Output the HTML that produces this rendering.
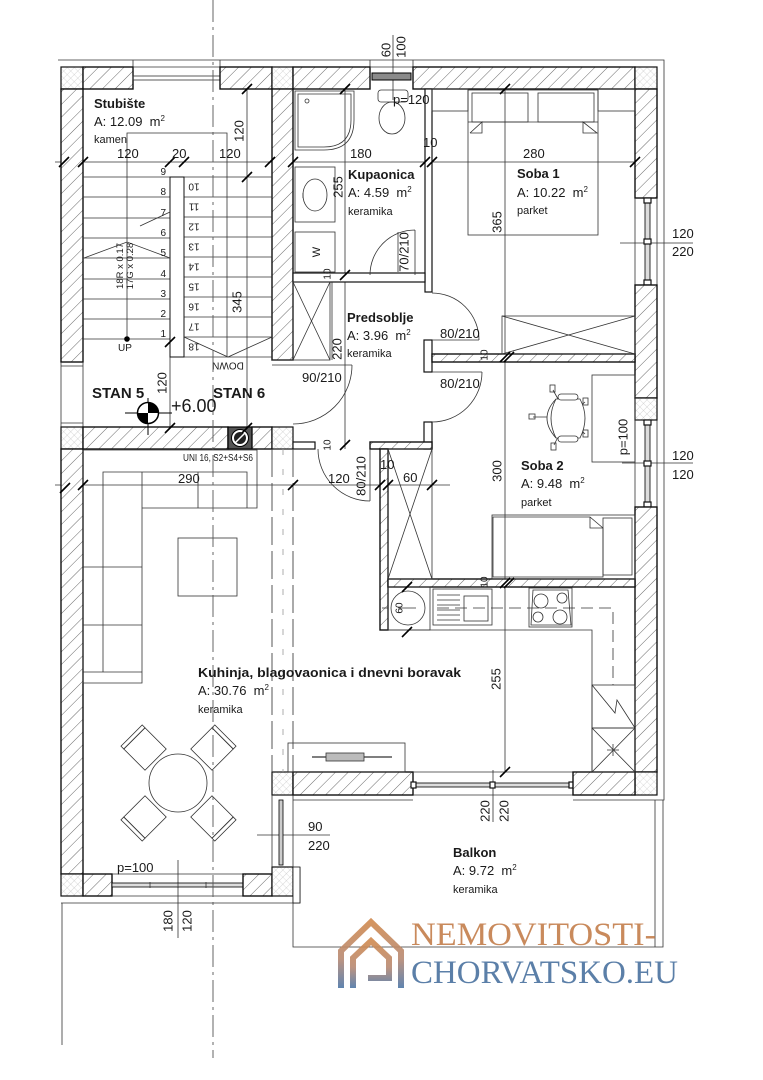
<!DOCTYPE html>
<html><head><meta charset="utf-8"><style>
html,body{margin:0;padding:0;background:#fff}
svg{display:block}
text{font-family:"Liberation Sans",Arial,sans-serif;fill:#1a1a1a}
.w{fill:url(#h);stroke:#111;stroke-width:1.4}
.c{fill:url(#x);stroke:#111;stroke-width:1.2}
.p{fill:#fff;stroke:#111;stroke-width:1.2}
.t{fill:none;stroke:#333;stroke-width:0.8}
.tk{fill:none;stroke:#000;stroke-width:1.6}
.d{font-size:13px}
.b{font-size:13px;font-weight:bold}
.s{font-size:11px}
.n{font-size:10px}
</style></head><body>
<svg width="763" height="1080" viewBox="0 0 763 1080" xmlns="http://www.w3.org/2000/svg">
<defs>
<pattern id="h" width="9" height="9" patternUnits="userSpaceOnUse" patternTransform="rotate(45)"><rect width="9" height="9" fill="#fff"/><line x1="0" y1="0" x2="0" y2="9" stroke="#444" stroke-width="0.8"/></pattern>
<pattern id="x" width="5" height="5" patternUnits="userSpaceOnUse" patternTransform="rotate(45)"><rect width="5" height="5" fill="#fff"/><path d="M0 0V5M0 0H5" stroke="#bbb" stroke-width="0.6"/></pattern>
<linearGradient id="lg" x1="0" y1="0" x2="0" y2="1"><stop offset="0" stop-color="#d08a50"/><stop offset="0.55" stop-color="#b98a73"/><stop offset="1" stop-color="#4f78a8"/></linearGradient>
</defs>

<!-- outlines -->
<path class="t" d="M58,60 H664 V800 H573 M293,800 H413 M293,896 V947 H663 V800 M655,800 V947 M61,903 H300 V867 M62,903 V1045"/>
<path class="t" d="M133,60 V67 M220,60 V67 M370,60 V67 M413,60 V67"/>

<!-- dimension lines -->
<path class="t" d="M55,162 H650 M55,485 H450 M247,89 V430 M170,340 V430 M345,89 V449 M505,89 V772 M620,243 H693 M622,463 H693 M257,835 H330 M178,860 V938 M493,770 V822 M393,35 V100 M398,608 H416"/>

<!-- top wall -->
<rect class="c" x="61" y="67" width="22" height="22"/>
<rect class="w" x="83" y="67" width="50" height="22"/>
<line class="t" x1="133" y1="67" x2="220" y2="67"/>
<rect class="t" x="133" y="76" width="87" height="4"/>
<rect class="w" x="220" y="67" width="52" height="22"/>
<rect class="c" x="272" y="67" width="21" height="22"/>
<rect class="w" x="293" y="67" width="77" height="22"/>
<line class="t" x1="370" y1="67" x2="413" y2="67"/>
<rect x="372" y="73" width="39" height="7" fill="#8a8a8a" stroke="#000" stroke-width="1"/>
<rect class="w" x="413" y="67" width="222" height="22"/>
<rect class="c" x="635" y="67" width="22" height="22"/>

<!-- right wall -->
<rect class="w" x="635" y="89" width="22" height="109"/>
<path class="t" d="M635,198 V285 M657,198 V285 M635,420 V507 M657,420 V507"/>
<rect x="645" y="198" width="5" height="87" fill="#ddd" stroke="#000" stroke-width="0.8"/>
<rect x="644" y="198" width="7" height="5" class="p"/><rect x="644" y="239" width="7" height="5" class="p"/><rect x="644" y="280" width="7" height="5" class="p"/>
<rect class="w" x="635" y="285" width="22" height="113"/>
<rect class="c" x="635" y="398" width="22" height="22"/>
<rect x="645" y="420" width="5" height="87" fill="#ddd" stroke="#000" stroke-width="0.8"/>
<rect x="644" y="420" width="7" height="5" class="p"/><rect x="644" y="461" width="7" height="5" class="p"/><rect x="644" y="502" width="7" height="5" class="p"/>
<rect class="w" x="635" y="507" width="22" height="265"/>
<rect class="c" x="635" y="772" width="22" height="23"/>

<!-- kitchen/balcony wall -->
<rect class="c" x="272" y="772" width="21" height="23"/>
<rect class="w" x="293" y="772" width="120" height="23"/>
<path class="t" d="M413,772 H573 M413,795 H573"/>
<rect x="413" y="783" width="160" height="4" fill="#ddd" stroke="#000" stroke-width="0.8"/>
<rect x="411" y="782" width="5" height="6" class="p"/><rect x="490" y="782" width="5" height="6" class="p"/><rect x="569" y="782" width="5" height="6" class="p"/>
<rect class="w" x="573" y="772" width="62" height="23"/>

<!-- left wall -->
<rect class="w" x="61" y="89" width="22" height="273"/>
<path class="t" d="M61,362 V427 M83,362 V427 M61,366 H83 M61,423 H83"/>
<rect class="c" x="61" y="427" width="22" height="22"/>
<rect class="w" x="61" y="449" width="22" height="425"/>
<rect class="c" x="61" y="874" width="22" height="22"/>

<!-- stairs/living wall -->
<rect class="w" x="83" y="427" width="145" height="22"/>
<rect x="228" y="427" width="24" height="22" fill="#555" stroke="#000" stroke-width="1.2"/>
<circle cx="240" cy="438" r="8.5" fill="#fff" stroke="#000" stroke-width="1"/>
<circle cx="240" cy="438" r="6" fill="#222"/>
<path d="M235,443 L245,433" stroke="#fff" stroke-width="1.5"/>
<rect class="w" x="252" y="427" width="20" height="22"/>
<rect class="c" x="272" y="427" width="21" height="22"/>

<!-- stair/corridor wall -->
<rect class="w" x="272" y="89" width="21" height="271"/>
<path class="t" d="M272,360 H293 M272,365 H293"/>

<!-- bottom living wall -->
<rect class="w" x="83" y="874" width="29" height="22"/>
<path class="t" d="M112,874 H243 M112,896 H243"/>
<rect x="112" y="883" width="131" height="4" fill="#ddd" stroke="#000" stroke-width="0.8"/>
<path class="t" d="M150,882 V888 M178,882 V888 M206,882 V888"/>
<rect class="w" x="243" y="874" width="29" height="22"/>
<rect class="c" x="272" y="867" width="21" height="29"/>
<rect class="p" x="293" y="867" width="7" height="36" style="stroke-width:0.8"/>

<!-- balcony vertical window -->
<path class="t" d="M272,795 V867 M293,795 V867"/>
<rect x="279" y="800" width="4" height="65" fill="#ccc" stroke="#000" stroke-width="0.8"/>

<!-- interior walls -->
<rect class="p" x="425" y="89" width="7" height="203"/>
<rect class="p" x="293" y="273" width="132" height="9"/>
<rect class="p" x="424" y="340" width="8" height="32"/>
<rect class="p" x="424" y="422" width="8" height="27"/>
<rect class="w" x="432" y="354" width="203" height="8"/>
<rect class="p" x="293" y="442" width="22" height="7"/>
<rect class="w" x="370" y="442" width="62" height="7"/>
<rect class="w" x="380" y="449" width="8" height="181"/>
<rect class="w" x="388" y="579" width="247" height="8"/>

<!-- hall wardrobe -->
<rect class="t" x="388" y="449" width="44" height="130"/>
<path class="t" d="M388,449 L432,579 M432,449 L388,579"/>
<!-- predsoblje wardrobe -->
<rect class="t" x="293" y="282" width="37" height="78"/>
<path class="t" d="M293,282 L330,360 M330,282 L293,360 M332,282 V360"/>

<!-- stairs -->
<path class="t" d="M83,177 H170 M83,197 H170 M83,218 H170 M83,238 H170 M83,258 H170 M83,279 H170 M83,299 H170 M83,319 H170 M83,339 H170"/>
<path class="t" d="M184,177 H272 M184,197 H272 M184,217 H272 M184,237 H272 M184,257 H272 M184,277 H272 M184,297 H272 M184,317 H272 M184,337 H272 M184,357 H272"/>
<rect class="p" x="170" y="177" width="14" height="180" style="stroke-width:1"/>
<path class="t" d="M127,339 V133 H227 V357 M184,337 L228,357 L272,337 M84,258 L127,242 L170,258 M140,226 L170,212"/>
<circle cx="127" cy="339" r="2.8" fill="#000"/>
<g class="n">
<text x="166" y="175" text-anchor="end">9</text><text x="166" y="195" text-anchor="end">8</text><text x="166" y="216" text-anchor="end">7</text><text x="166" y="236" text-anchor="end">6</text><text x="166" y="256" text-anchor="end">5</text><text x="166" y="277" text-anchor="end">4</text><text x="166" y="297" text-anchor="end">3</text><text x="166" y="317" text-anchor="end">2</text><text x="166" y="337" text-anchor="end">1</text>
<text transform="translate(194,187) rotate(180)" y="3.5" text-anchor="middle">10</text>
<text transform="translate(194,207) rotate(180)" y="3.5" text-anchor="middle">11</text>
<text transform="translate(194,227) rotate(180)" y="3.5" text-anchor="middle">12</text>
<text transform="translate(194,247) rotate(180)" y="3.5" text-anchor="middle">13</text>
<text transform="translate(194,267) rotate(180)" y="3.5" text-anchor="middle">14</text>
<text transform="translate(194,287) rotate(180)" y="3.5" text-anchor="middle">15</text>
<text transform="translate(194,307) rotate(180)" y="3.5" text-anchor="middle">16</text>
<text transform="translate(194,327) rotate(180)" y="3.5" text-anchor="middle">17</text>
<text transform="translate(194,347) rotate(180)" y="3.5" text-anchor="middle">18</text>
<text x="118" y="351">UP</text>
<text transform="translate(228,366) rotate(180)" y="3.5" text-anchor="middle">DOWN</text>
</g>
<text transform="translate(120,266) rotate(-90)" y="3" text-anchor="middle" style="font-size:9.5px">18R x 0.17</text>
<text transform="translate(130,266) rotate(-90)" y="3" text-anchor="middle" style="font-size:9.5px">17G x 0.28</text>

<!-- level marker -->
<path d="M125,413 H172 M148,398 V435" stroke="#000" stroke-width="1"/>
<circle cx="148" cy="413" r="10.5" fill="#fff" stroke="#000" stroke-width="1.5"/>
<path d="M148,413 V402.5 A10.5,10.5 0 0 1 158.5,413 Z M148,413 V423.5 A10.5,10.5 0 0 1 137.5,413 Z" fill="#000"/>

<!-- bathroom -->
<path class="t" d="M295,91 H354 V120 Q354,150 324,150 H295 Z"/>
<path class="t" d="M298,94 H351 V120 Q351,147 324,147 H298 Z"/>
<circle cx="307" cy="101" r="2" class="t"/>
<rect class="t" x="378" y="90" width="30" height="12" rx="3"/>
<ellipse class="t" cx="392" cy="118" rx="13" ry="16"/>
<rect class="t" x="295" y="167" width="40" height="55"/>
<ellipse class="t" cx="315" cy="195" rx="12" ry="16"/>
<path class="t" d="M303,193 V198"/>
<rect class="t" x="295" y="232" width="40" height="40"/>
<text transform="translate(316,252) rotate(-90)" y="4" text-anchor="middle" class="s">W</text>
<path class="t" d="M415,275 V230 M415,230 A45,45 0 0 0 370,275 M398,232 V272"/>

<!-- doors -->
<path class="t" d="M293,365 H352 M352,365 A59,59 0 0 1 293,424"/>
<path class="t" d="M432,340 H479 M479,340 A47,47 0 0 0 432,293"/>
<path class="t" d="M432,372 H482 M482,372 A50,50 0 0 1 432,422"/>
<path class="t" d="M370,449 V501 M370,501 A52,52 0 0 1 318,449"/>

<!-- soba 1 -->
<rect class="t" x="432" y="89" width="36" height="22"/>
<rect class="t" x="598" y="89" width="37" height="22"/>
<rect class="t" x="468" y="90" width="130" height="145"/>
<rect class="t" x="472" y="93" width="56" height="29"/>
<rect class="t" x="538" y="93" width="56" height="29"/>
<path class="t" d="M468,122 H598 M470,133 L482,122 V133 H470 M583,122 L597,133 H583 Z"/>
<rect class="t" x="502" y="316" width="133" height="38"/>
<path class="t" d="M502,316 L635,354 M635,316 L502,354"/>

<!-- soba 2 -->
<rect class="t" x="592" y="375" width="43" height="87"/>
<g class="t">
<path d="M553,390 L568,417 L585,402 M533,417 H568 L585,434 M568,417 L554,445"/>
<rect x="550" y="385" width="5" height="7"/><rect x="583" y="398" width="5" height="7"/><rect x="529" y="414" width="6" height="5"/><rect x="583" y="430" width="5" height="7"/><rect x="551" y="443" width="5" height="7"/>
</g>
<path d="M556,399 Q538,418 556,438 H580 Q590,418 580,399 Z" fill="#fff" stroke="#333" stroke-width="0.8"/>
<path class="t" d="M556,399 Q546,418 556,438"/>
<rect x="558" y="394" width="20" height="6" rx="3" fill="#fff" stroke="#333" stroke-width="0.8"/>
<rect x="558" y="436" width="20" height="6" rx="3" fill="#fff" stroke="#333" stroke-width="0.8"/>
<rect class="t" x="492" y="515" width="143" height="64"/>
<path class="t" d="M493,517 H590 L603,528 V577 H493 Z M590,517 V528 H603"/>
<rect class="t" x="603" y="518" width="29" height="57"/>

<!-- kitchen -->
<path class="t" d="M388,630 H592 V772"/>
<rect class="t" x="388" y="587" width="42" height="43"/>
<circle class="t" cx="408" cy="608" r="17"/>
<rect class="t" x="433" y="589" width="59" height="36"/>
<path class="t" d="M437,595 H460 M437,600 H460 M437,605 H460 M437,610 H460 M437,615 H460 M437,620 H460"/>
<rect class="t" x="464" y="596" width="24" height="25"/>
<rect class="t" x="529" y="588" width="43" height="39"/>
<path class="t" d="M533,590 H568 L571,625 H531 Z"/>
<circle class="t" cx="541" cy="601" r="7"/><circle class="t" cx="562" cy="598" r="5"/><circle class="t" cx="538" cy="617" r="5"/><circle class="t" cx="560" cy="617" r="7"/>
<path d="M382,608 H388 M437,608 H613 V685" fill="none" stroke="#333" stroke-width="0.8" stroke-dasharray="12 6"/>
<rect class="t" x="592" y="685" width="43" height="43"/>
<path class="t" d="M592,685 L615,713 L617,700 L635,728"/>
<rect class="t" x="592" y="728" width="43" height="44"/>
<path class="t" d="M592,728 L635,772 M635,728 L592,772 M607,750 H619 M613,744 V756"/>

<!-- living -->
<path class="t" d="M83,450 H257 V508 H142 V683 H83 Z M103,672 V472 H247 V508 M142,472 V508 M198,472 V508 M83,567 H142 M83,625 H142 M83,672 H142"/>
<rect class="t" x="178" y="538" width="59" height="58"/>
<circle class="t" cx="178" cy="783" r="29"/>
<g class="t">
<g transform="translate(145,749) rotate(-45)"><rect x="-15" y="-15" width="30" height="30"/><rect x="-15" y="-19" width="30" height="4"/></g>
<g transform="translate(212,749) rotate(45)"><rect x="-15" y="-15" width="30" height="30"/><rect x="-15" y="-19" width="30" height="4"/></g>
<g transform="translate(212,817) rotate(135)"><rect x="-15" y="-15" width="30" height="30"/><rect x="-15" y="-19" width="30" height="4"/></g>
<g transform="translate(145,817) rotate(-135)"><rect x="-15" y="-15" width="30" height="30"/><rect x="-15" y="-19" width="30" height="4"/></g>
</g>
<rect class="t" x="288" y="743" width="117" height="29"/>
<path d="M312,757 H392" stroke="#333" stroke-width="1.2"/>
<rect x="326" y="753" width="38" height="8" fill="#bbb" stroke="#333" stroke-width="0.8"/>

<!-- dashed axes -->
<path d="M213,0 V1058" stroke="#555" stroke-width="0.9" stroke-dasharray="22 5 3 5" fill="none"/>
<path d="M272,449 V772 M293,449 V772" stroke="#444" stroke-width="0.9" stroke-dasharray="28 6" fill="none"/>
<path d="M283,449 V772" stroke="#999" stroke-width="0.8" stroke-dasharray="6 14" fill="none"/>

<!-- ticks -->
<path class="tk" d="M59,167l10-10 M78,167l10-10 M165,167l10-10 M179,167l10-10 M265,167l10-10 M288,167l10-10 M420,167l10-10 M427,167l10-10 M630,167l10-10 M78,490l10-10 M288,490l10-10 M375,490l10-10 M383,490l10-10 M427,490l10-10 M242,94l10-10 M242,182l10-10 M242,433l10-10 M165,347l10-10 M165,433l10-10 M340,94l10-10 M340,280l10-10 M340,450l10-10 M500,94l10-10 M500,362l10-10 M504,362l10-10 M500,588l10-10 M504,588l10-10 M500,777l10-10 M402,592l10-10 M402,637l10-10 M60,493l10-10"/>

<!-- room labels -->
<text x="94" y="108" class="b">Stubište</text>
<text x="94" y="126" class="d">A: 12.09&#160; m<tspan dy="-5" font-size="8">2</tspan></text>
<text x="94" y="143" class="s">kamen</text>
<text x="348" y="179" class="b">Kupaonica</text>
<text x="348" y="197" class="d">A: 4.59&#160; m<tspan dy="-5" font-size="8">2</tspan></text>
<text x="348" y="215" class="s">keramika</text>
<text x="517" y="178" class="b">Soba 1</text>
<text x="517" y="197" class="d">A: 10.22&#160; m<tspan dy="-5" font-size="8">2</tspan></text>
<text x="517" y="214" class="s">parket</text>
<text x="347" y="322" class="b">Predsoblje</text>
<text x="347" y="340" class="d">A: 3.96&#160; m<tspan dy="-5" font-size="8">2</tspan></text>
<text x="347" y="357" class="s">keramika</text>
<text x="521" y="470" class="b">Soba 2</text>
<text x="521" y="488" class="d">A: 9.48&#160; m<tspan dy="-5" font-size="8">2</tspan></text>
<text x="521" y="506" class="s">parket</text>
<text x="198" y="677" class="b" textLength="263" lengthAdjust="spacingAndGlyphs">Kuhinja, blagovaonica i dnevni boravak</text>
<text x="198" y="695" class="d">A: 30.76&#160; m<tspan dy="-5" font-size="8">2</tspan></text>
<text x="198" y="713" class="s">keramika</text>
<text x="453" y="857" class="b">Balkon</text>
<text x="453" y="875" class="d">A: 9.72&#160; m<tspan dy="-5" font-size="8">2</tspan></text>
<text x="453" y="893" class="s">keramika</text>

<text x="92" y="398" style="font-size:15px;font-weight:bold">STAN 5</text>
<text x="213" y="398" style="font-size:15px;font-weight:bold">STAN 6</text>
<text x="171" y="412" style="font-size:18px">+6.00</text>
<text x="183" y="461" class="n" textLength="70" lengthAdjust="spacingAndGlyphs">UNI 16, S2+S4+S6</text>

<!-- dimension texts -->
<g class="d">
<text x="117" y="158">120</text><text x="172" y="158">20</text><text x="219" y="158">120</text>
<text x="350" y="158">180</text><text x="523" y="158">280</text><text x="423" y="147">10</text>
<text x="178" y="483">290</text><text x="328" y="483">120</text><text x="380" y="469">10</text><text x="403" y="482">60</text>
<text x="302" y="382">90/210</text><text x="440" y="338">80/210</text><text x="440" y="388">80/210</text>
<text x="672" y="238">120</text><text x="672" y="256">220</text>
<text x="672" y="460">120</text><text x="672" y="479">120</text>
<text x="308" y="831">90</text><text x="308" y="850">220</text>
<text x="393" y="104">p=120</text><text x="117" y="872">p=100</text>
<text transform="translate(239,131) rotate(-90)" y="4.5" text-anchor="middle">120</text>
<text transform="translate(338,187) rotate(-90)" y="4.5" text-anchor="middle">255</text>
<text transform="translate(497,222) rotate(-90)" y="4.5" text-anchor="middle">365</text>
<text transform="translate(237,302) rotate(-90)" y="4.5" text-anchor="middle">345</text>
<text transform="translate(162,383) rotate(-90)" y="4.5" text-anchor="middle">120</text>
<text transform="translate(337,349) rotate(-90)" y="4.5" text-anchor="middle">220</text>
<text transform="translate(497,471) rotate(-90)" y="4.5" text-anchor="middle">300</text>
<text transform="translate(496,679) rotate(-90)" y="4.5" text-anchor="middle">255</text>
<text transform="translate(404,252) rotate(-90)" y="4.5" text-anchor="middle">70/210</text>
<text transform="translate(361,476) rotate(-90)" y="4.5" text-anchor="middle">80/210</text>
<text transform="translate(386,50) rotate(-90)" y="4.5" text-anchor="middle">60</text>
<text transform="translate(401,47) rotate(-90)" y="4.5" text-anchor="middle">100</text>
<text transform="translate(623,437) rotate(-90)" y="4.5" text-anchor="middle">p=100</text>
<text transform="translate(168,921) rotate(-90)" y="4.5" text-anchor="middle">180</text>
<text transform="translate(187,921) rotate(-90)" y="4.5" text-anchor="middle">120</text>
<text transform="translate(485,811) rotate(-90)" y="4.5" text-anchor="middle">220</text>
<text transform="translate(504,811) rotate(-90)" y="4.5" text-anchor="middle">220</text>
</g>
<g class="n">
<text transform="translate(399,608) rotate(-90)" y="3.5" text-anchor="middle">60</text>
<text transform="translate(327,274) rotate(-90)" y="3.5" text-anchor="middle">10</text>
<text transform="translate(327,445) rotate(-90)" y="3.5" text-anchor="middle">10</text>
<text transform="translate(484,355) rotate(-90)" y="3.5" text-anchor="middle">10</text>
<text transform="translate(484,582) rotate(-90)" y="3.5" text-anchor="middle">10</text>
</g>

<!-- logo -->
<g fill="none" stroke="url(#lg)" stroke-width="6" stroke-linejoin="miter" opacity="0.9">
<path d="M341,988 V951 L371,922 L401,951 V988"/>
<path d="M353,988 V958 L371,941 L389,958 V978 H368"/>
</g>
<text x="411" y="945" textLength="245" lengthAdjust="spacingAndGlyphs" style="font-family:'Liberation Serif',serif;font-size:33px;fill:#c98a5c">NEMOVITOSTI-</text>
<text x="411" y="983" textLength="267" lengthAdjust="spacingAndGlyphs" style="font-family:'Liberation Serif',serif;font-size:33px;fill:#5b7fa8">CHORVATSKO.EU</text>
</svg>
</body></html>
